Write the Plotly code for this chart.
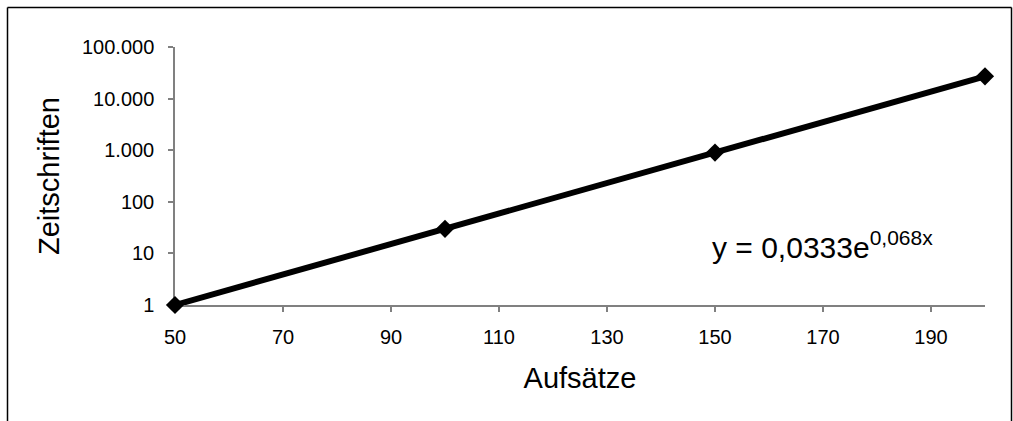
import plotly.graph_objects as go

# Data
aufsaetze = [50, 100, 150, 200]
zeitschriften = [1, 30, 900, 27000]

x_tickvals = [50, 70, 90, 110, 130, 150, 170, 190]
y_tickvals = [1, 10, 100, 1000, 10000, 100000]
y_ticktext = ["1", "10", "100", "1.000", "10.000", "100.000"]

equation = "y = 0,0333e<sup>0,068x</sup>"

FONT = "Liberation Sans, Arial, sans-serif"

fig = go.Figure()
fig.add_trace(go.Scatter(
    x=aufsaetze, y=zeitschriften,
    mode="lines+markers",
    line=dict(color="black", width=6),
    marker=dict(symbol="diamond", size=14, color="black"),
    showlegend=False,
    cliponaxis=False,
))

fig.update_layout(
    width=1013, height=421,
    margin=dict(l=175, r=28, t=47, b=116),
    paper_bgcolor="white", plot_bgcolor="white",
    font=dict(family=FONT, color="black", size=20),
    xaxis=dict(
        range=[50, 200], tickvals=x_tickvals,
        showgrid=False, zeroline=False, layer="below traces",
        showline=True, linecolor="#808080", linewidth=1.5,
        ticks="outside", ticklen=5, tickcolor="#808080", tickwidth=1.5,
        tickfont=dict(size=20, family=FONT, color="black"),
        ticklabelstandoff=8,
        title=dict(text="Aufsätze", font=dict(size=29, family=FONT, color="black"), standoff=21),
    ),
    yaxis=dict(
        type="log", range=[0, 5],
        tickvals=y_tickvals, ticktext=y_ticktext,
        showgrid=False, zeroline=False, layer="below traces",
        showline=True, linecolor="#808080", linewidth=1.5,
        ticks="outside", ticklen=5, tickcolor="#808080", tickwidth=1.5,
        tickfont=dict(size=20, family=FONT, color="black"),
        ticklabelstandoff=10,
        title=dict(text="Zeitschriften", font=dict(size=29, family=FONT, color="black"), standoff=14),
    ),
    annotations=[dict(
        text=equation, xref="paper", yref="paper",
        x=(710 - 175) / 810, y=(305 - 245) / 258,
        xanchor="left", yanchor="middle", showarrow=False,
        font=dict(size=30, family=FONT, color="black"),
    )],
    shapes=[
        dict(type="line", xref="paper", yref="paper",
             x0=(7.5 - 175) / 810, x1=(7.5 - 175) / 810,
             y0=(305 - 7.5) / 258, y1=(305 - 430) / 258,
             line=dict(color="black", width=1.5)),
        dict(type="line", xref="paper", yref="paper",
             x0=(7.5 - 175) / 810, x1=(1011.5 - 175) / 810,
             y0=(305 - 7.5) / 258, y1=(305 - 7.5) / 258,
             line=dict(color="black", width=1.5)),
        dict(type="line", xref="paper", yref="paper",
             x0=(1011.5 - 175) / 810, x1=(1011.5 - 175) / 810,
             y0=(305 - 7.5) / 258, y1=(305 - 430) / 258,
             line=dict(color="black", width=1.5)),
    ],
)

fig.write_html(
    "out.html",
    config={"displayModeBar": False},
    post_script="document.body.style.margin='0';document.body.style.overflow='hidden';",
)
